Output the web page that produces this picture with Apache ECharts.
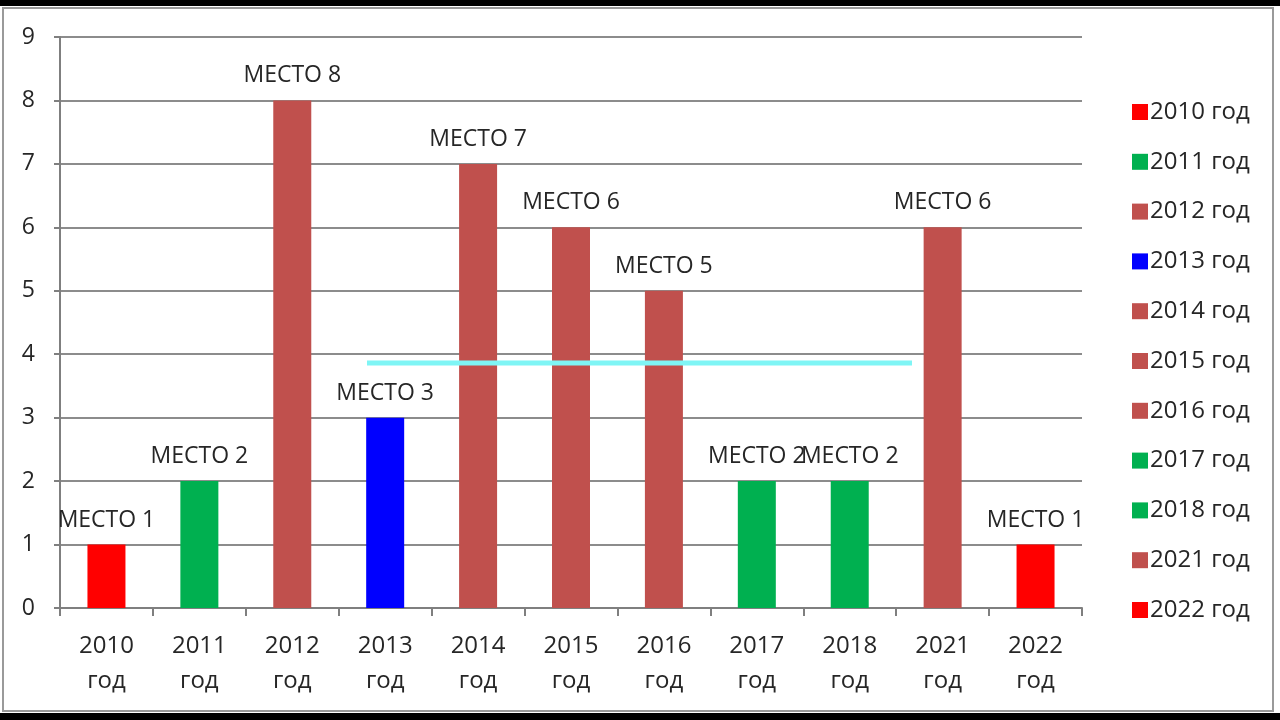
<!DOCTYPE html>
<html><head><meta charset="utf-8">
<script src="https://cdn.jsdelivr.net/npm/echarts@6/dist/echarts.min.js"></script>
<style>html,body{margin:0;padding:0;background:#fff}#c{width:1280px;height:720px}</style>
</head><body><div id="c"></div>
<script>
const categories = ['2010 год','2011 год','2012 год','2013 год','2014 год','2015 год','2016 год','2017 год','2018 год','2021 год','2022 год'];
const places = [1,2,8,3,7,6,5,2,2,6,1];
const barColors = ['#ff0000','#00b050','#c0504d','#0000ff','#c0504d','#c0504d','#c0504d','#00b050','#00b050','#c0504d','#ff0000'];
const yTicks = [0,1,2,3,4,5,6,7,8,9];
const labelPrefix = 'МЕСТО ';

const font = '"Open Sans", Lato, sans-serif';
const series = categories.map((name, i) => ({
  name: name,
  type: 'bar',
  stack: 'all',
  barWidth: 38,
  itemStyle: { color: barColors[i] },
  data: categories.map((c, j) => j === i ? places[i] : null),
  label: {
    show: true, position: 'top', distance: 13,
    formatter: p => labelPrefix + p.value,
    fontFamily: font, fontSize: 23, color: '#262626'
  }
}));

const chart = echarts.init(document.getElementById('c'));
chart.setOption({
  backgroundColor: '#fff',
  animation: false,
  grid: { left: 60, right: 198, top: 37, bottom: 112 },
  xAxis: {
    type: 'category',
    data: categories,
    axisLine: { lineStyle: { color: '#7f7f7f', width: 2 } },
    axisTick: { show: true, length: 8, alignWithLabel: false, lineStyle: { color: '#7f7f7f', width: 2 } },
    axisLabel: {
      formatter: v => v.replace(' ', '\n'),
      fontFamily: font, fontSize: 24, color: '#262626', lineHeight: 35, margin: 21
    }
  },
  yAxis: {
    type: 'value', min: yTicks[0], max: yTicks[yTicks.length - 1], interval: 1,
    axisLine: { show: true, lineStyle: { color: '#7f7f7f', width: 2 } },
    axisTick: { show: true, length: 6, lineStyle: { color: '#7f7f7f', width: 2 } },
    splitLine: { lineStyle: { color: '#8c8c8c', width: 2 } },
    axisLabel: { fontFamily: font, fontSize: 23, color: '#262626', margin: 25 }
  },
  legend: {
    orient: 'vertical', left: 1127, top: 95,
    itemWidth: 16, itemHeight: 16, itemGap: 25.8,
    icon: 'rect',
    textStyle: { fontFamily: font, fontSize: 24, color: '#262626', lineHeight: 20, padding: [0, 0, 0, -3] },
    data: categories
  },
  series: series,
  graphic: [
    { type: 'rect', shape: { x: 0, y: 0, width: 1280, height: 6 }, style: { fill: '#000' } },
    { type: 'rect', shape: { x: 0, y: 713, width: 1280, height: 7 }, style: { fill: '#000' } },
    { type: 'rect', shape: { x: 3, y: 8, width: 1270, height: 703 }, style: { fill: 'none', stroke: '#9a9a9a', lineWidth: 2 } },
    { type: 'line', shape: { x1: 367, y1: 363, x2: 912, y2: 363 }, style: { stroke: '#7ff5f5', lineWidth: 5 }, z: 100 }
  ]
});
</script></body></html>
